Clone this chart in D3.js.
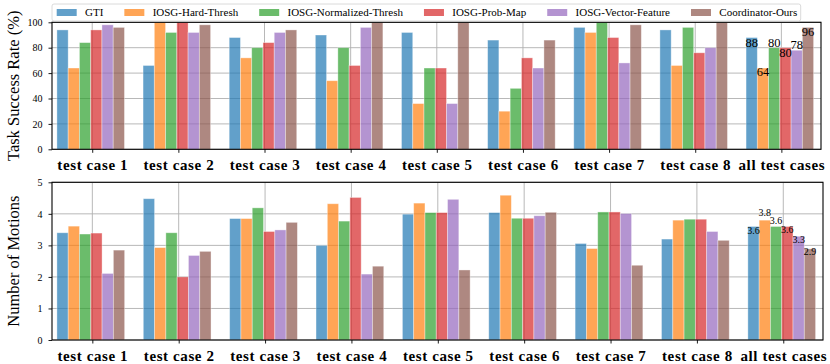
<!DOCTYPE html>
<html>
<head>
<meta charset="utf-8">
<script src="https://cdn.jsdelivr.net/npm/d3@7"></script>
<style>
  body { margin: 0; background: #fff; }
  svg { display: block; }
  svg text { font-family: "Liberation Serif", "DejaVu Serif", serif !important; fill: #000; }
</style>
</head>
<body>
<svg id="chart" width="830" height="364"></svg>
<script>
// ---------- data ----------
const categories = ["test case 1", "test case 2", "test case 3", "test case 4", "test case 5",
  "test case 6", "test case 7", "test case 8", "all test cases"];
const seriesNames = ["GTI", "IOSG-Hard-Thresh", "IOSG-Normalized-Thresh", "IOSG-Prob-Map",
  "IOSG-Vector-Feature", "Coordinator-Ours"];
const seriesColors = ["#1f77b4", "#ff7f0e", "#2ca02c", "#d62728", "#9467bd", "#8c564b"];

const successGTI  = [94, 66, 88, 90, 92, 86, 96, 94, 88];
const successHard = [64, 100, 72, 54, 36, 30, 92, 66, 64];
const successNorm = [84, 92, 80, 80, 64, 48, 100, 96, 80];
const successProb = [94, 100, 84, 66, 64, 72, 88, 76, 80];
const successVec  = [98, 92, 92, 96, 36, 64, 68, 80, 78];
const successOurs = [96, 98, 94, 100, 100, 86, 98, 100, 96];

const motionsGTI  = [3.40, 4.48, 3.85, 3.00, 3.99, 4.04, 3.06, 3.20, 3.60];
const motionsHard = [3.61, 2.93, 3.85, 4.32, 4.34, 4.59, 2.90, 3.80, 3.80];
const motionsNorm = [3.36, 3.40, 4.19, 3.77, 4.04, 3.86, 4.06, 3.83, 3.60];
const motionsProb = [3.39, 2.00, 3.44, 4.52, 4.04, 3.86, 4.06, 3.83, 3.60];
const motionsVec  = [2.11, 2.68, 3.49, 2.09, 4.46, 3.94, 4.01, 3.44, 3.29];
const motionsOurs = [2.85, 2.81, 3.73, 2.34, 2.22, 4.05, 2.37, 3.16, 2.89];

const successTicks = [0, 20, 40, 60, 80, 100];
const motionsTicks = [0, 1, 2, 3, 4, 5];

// label vertical nudges (px) for the "all test cases" value labels
const successLabelNudge = [6.4, 5, -4, 6, -4.5, 6.2];
const motionsLabelNudge = [5, -6, -5, 4.6, 4, 4.3];

// ---------- drawing ----------
const svg = d3.select("#chart");
const barW = 0.1307;      // in category units
const groupStart = -0.41; // left edge of first bar relative to tick

function panel(opts) {
  const { left, right, top, bottom, yMax, ticks, series, yLabel, fmt, nudge, labelSize } = opts;
  const x = d3.scaleLinear().domain([-0.467, 8.46]).range([left, right]);
  const y = d3.scaleLinear().domain([0, yMax]).range([bottom, top]);
  const g = svg.append("g");

  // grid
  g.append("g").selectAll("line.h").data(ticks).join("line")
    .attr("x1", left).attr("x2", right)
    .attr("y1", d => y(d)).attr("y2", d => y(d))
    .attr("stroke", "#b0b0b0").attr("stroke-width", 0.9);
  g.append("g").selectAll("line.v").data(categories).join("line")
    .attr("x1", (d, i) => x(i)).attr("x2", (d, i) => x(i))
    .attr("y1", top).attr("y2", bottom)
    .attr("stroke", "#b0b0b0").attr("stroke-width", 0.9);

  // bars
  series.forEach((vals, s) => {
    g.append("g").selectAll("rect").data(vals).join("rect")
      .attr("x", (d, i) => x(i + groupStart + s * barW))
      .attr("width", x(barW) - x(0))
      .attr("y", d => y(d))
      .attr("height", d => y(0) - y(d))
      .attr("fill", seriesColors[s]).attr("fill-opacity", 0.7)
      .attr("stroke", "#ffffff").attr("stroke-opacity", 0.45).attr("stroke-width", 0.8);
  });

  // value labels on last group
  const last = categories.length - 1;
  g.append("g").selectAll("text").data(series.map(v => v[last])).join("text")
    .attr("x", (d, s) => x(last + groupStart + (s + 0.5) * barW))
    .attr("y", (d, s) => y(d) + nudge[s])
    .attr("text-anchor", "middle").attr("dominant-baseline", "middle")
    .attr("font-size", labelSize)
    .text(d => fmt(d));

  // frame
  g.append("rect").attr("x", left).attr("y", top)
    .attr("width", right - left).attr("height", bottom - top)
    .attr("fill", "none").attr("stroke", "#000").attr("stroke-width", 1.1);

  // y axis
  const ya = g.append("g").attr("transform", `translate(${left},0)`)
    .call(d3.axisLeft(y).tickValues(ticks).tickSize(3.5).tickPadding(6).tickFormat(d3.format("d")));
  ya.attr("font-family", null);
  ya.select(".domain").remove();
  ya.selectAll("text").attr("font-size", 10);
  ya.selectAll("line").attr("stroke-width", 0.9);

  // x axis
  const xa = g.append("g").attr("transform", `translate(0,${bottom})`)
    .call(d3.axisBottom(x).tickValues(d3.range(categories.length)).tickSize(3.5).tickPadding(7)
      .tickFormat(i => categories[i]));
  xa.attr("font-family", null);
  xa.select(".domain").remove();
  xa.selectAll("text").attr("font-size", 15).attr("font-weight", "bold")
    .attr("letter-spacing", "0.6px");
  xa.selectAll("line").attr("stroke-width", 0.9);

  // y label
  g.append("text")
    .attr("transform", `translate(15,${(top + bottom) / 2}) rotate(-90)`)
    .attr("text-anchor", "middle").attr("dominant-baseline", "middle")
    .attr("font-size", 16.5)
    .text(yLabel);
}

panel({
  left: 52, right: 821, top: 22.3, bottom: 149.3, yMax: 100, ticks: successTicks,
  series: [successGTI, successHard, successNorm, successProb, successVec, successOurs],
  yLabel: "Task Success Rate (%)", fmt: d3.format(".0f"), nudge: successLabelNudge, labelSize: 12.5
});
panel({
  left: 52, right: 823, top: 182.3, bottom: 340, yMax: 5, ticks: motionsTicks,
  series: [motionsGTI, motionsHard, motionsNorm, motionsProb, motionsVec, motionsOurs],
  yLabel: "Number of Motions", fmt: d3.format(".1f"), nudge: motionsLabelNudge, labelSize: 10
});

// ---------- legend ----------
const leg = svg.append("g");
const legLeft = 52, legRight = 800.7, legTop = 4, legBottom = 21;
leg.append("rect").attr("x", legLeft).attr("y", legTop)
  .attr("width", legRight - legLeft).attr("height", legBottom - legTop)
  .attr("rx", 2).attr("fill", "#fff").attr("fill-opacity", 0.85)
  .attr("stroke", "#d0d0d0").attr("stroke-width", 0.8);
const items = leg.selectAll("g").data(seriesNames).join("g");
items.append("rect").attr("width", 20).attr("height", 7).attr("y", 9)
  .attr("fill", (d, i) => seriesColors[i]).attr("fill-opacity", 0.7);
items.append("text").attr("x", 28.3).attr("y", 16.3).attr("font-size", 11).text(d => d);
const widths = items.nodes().map(n => 28.3 + n.querySelector("text").getComputedTextLength());
const startX = 56.7, endX = 797.3;
const gap = (endX - startX - d3.sum(widths)) / (widths.length - 1);
let cx = startX;
items.each(function (d, i) {
  d3.select(this).attr("transform", `translate(${cx},0)`);
  cx += widths[i] + gap;
});
</script>
</body>
</html>
